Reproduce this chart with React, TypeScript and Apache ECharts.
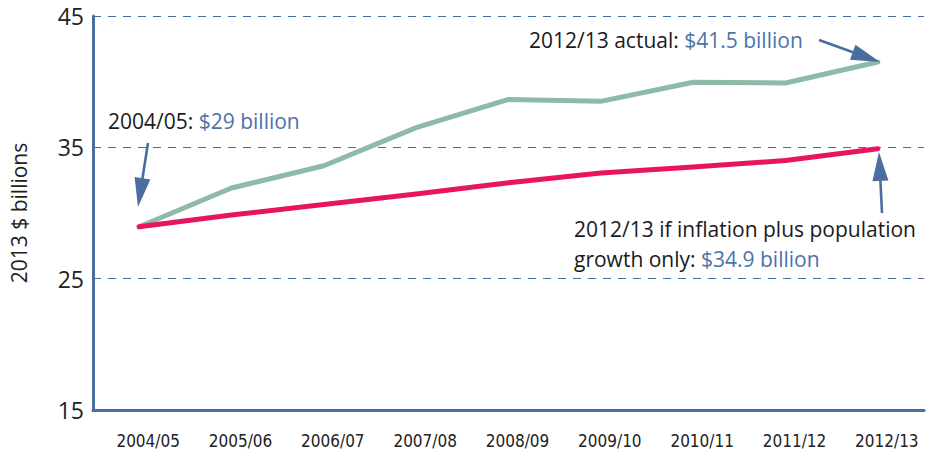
import React, { useEffect, useRef } from "react";
import * as echarts from "echarts";

const categories = ["2004/05", "2005/06", "2006/07", "2007/08", "2008/09", "2009/10", "2010/11", "2011/12", "2012/13"];
const actualValues = [28.95, 31.9, 33.6, 36.5, 38.65, 38.5, 39.95, 39.9, 41.5];
const inflationPopValues = [28.95, 29.85, 30.65, 31.45, 32.3, 33.05, 33.5, 34.0, 34.9];
const yTicks = [15, 25, 35, 45];

const AXIS_BLUE = "#4a6f9f";
const TEXT_BLUE = "#4a74a8";
const TEXT_DARK = "#1a1a1a";
const FONT = "'Open Sans', 'Noto Sans', sans-serif";
const COND = "'Liberation Sans Narrow', 'DejaVu Sans Condensed', 'Roboto', sans-serif";
const ANN_SIZE = 21;

function arrow(x1: number, y1: number, x2: number, y2: number) {
  const dx = x2 - x1;
  const dy = y2 - y1;
  const len = Math.sqrt(dx * dx + dy * dy);
  const ux = dx / len;
  const uy = dy / len;
  const headLen = 29;
  const hw = 8;
  const bx = x2 - ux * headLen;
  const by = y2 - uy * headLen;
  const px = -uy;
  const py = ux;
  return [
    {
      type: "line",
      shape: { x1, y1, x2: bx + ux * 4, y2: by + uy * 4 },
      style: { stroke: AXIS_BLUE, lineWidth: 2.6 },
      z: 100,
    },
    {
      type: "polygon",
      shape: {
        points: [
          [x2, y2],
          [bx + px * hw, by + py * hw],
          [bx - px * hw, by - py * hw],
        ],
      },
      style: { fill: AXIS_BLUE },
      z: 100,
    },
  ];
}

function label(x: number, y: number, dark: string, blue: string) {
  return {
    type: "text",
    x,
    y,
    z: 100,
    style: {
      text: `{a|${dark}}{b|${blue}}`,
      fontFamily: FONT,
      fontSize: ANN_SIZE,
      verticalAlign: "middle",
      rich: {
        a: { fill: TEXT_DARK, color: TEXT_DARK, fontFamily: FONT, fontSize: ANN_SIZE },
        b: { fill: TEXT_BLUE, color: TEXT_BLUE, fontFamily: FONT, fontSize: ANN_SIZE },
      },
    },
  };
}

export default function App() {
  const ref = useRef<HTMLDivElement>(null);
  useEffect(() => {
    if (!ref.current) return;
    const chart = echarts.init(ref.current, undefined, { renderer: "svg" });
    chart.setOption({
      animation: false,
      backgroundColor: "#ffffff",
      grid: { left: 90, right: 5, top: 16, bottom: 46 },
      xAxis: {
        type: "category",
        data: categories,
        boundaryGap: true,
        axisLine: { lineStyle: { color: AXIS_BLUE, width: 3 } },
        axisTick: { show: false },
        axisLabel: {
          color: "#222",
          fontFamily: COND,
          fontSize: 17,
          margin: 22,
          padding: [0, 0, 0, 18],
        },
      },
      yAxis: {
        type: "value",
        min: yTicks[0],
        max: yTicks[yTicks.length - 1],
        interval: 10,
        name: "2013 $ billions",
        nameLocation: "middle",
        nameRotate: 90,
        nameGap: 64,
        nameTextStyle: { color: "#222", fontFamily: FONT, fontSize: 21 },
        axisLine: { show: true, lineStyle: { color: AXIS_BLUE, width: 3 } },
        axisTick: { show: false },
        axisLabel: { color: "#222", fontFamily: FONT, fontSize: 23, margin: 9 },
        splitLine: {
          show: true,
          lineStyle: { color: AXIS_BLUE, width: 1, type: [8, 7] },
        },
      },
      series: [
        {
          name: "Actual",
          type: "line",
          data: actualValues,
          symbol: "none",
          lineStyle: { color: "#8dbba5", width: 5, cap: "round", join: "round" },
          z: 3,
        },
        {
          name: "Inflation plus population growth only",
          type: "line",
          data: inflationPopValues,
          symbol: "none",
          lineStyle: { color: "#e8145f", width: 5, cap: "round", join: "round" },
          z: 4,
        },
      ],
      graphic: [
        label(108, 121, "2004/05: ", "$29 billion"),
        ...arrow(148, 143, 138, 207),
        label(529, 40, "2012/13 actual: ", "$41.5 billion"),
        ...arrow(819, 40, 880, 62),
        label(574, 229, "2012/13 if inflation plus population", ""),
        label(574, 259, "growth only: ", "$34.9 billion"),
        ...arrow(882, 213, 879, 152),
      ],
    });
    return () => chart.dispose();
  }, []);
  return <div ref={ref} style={{ width: 929, height: 456, position: "absolute", left: 0, top: 0 }} />;
}
